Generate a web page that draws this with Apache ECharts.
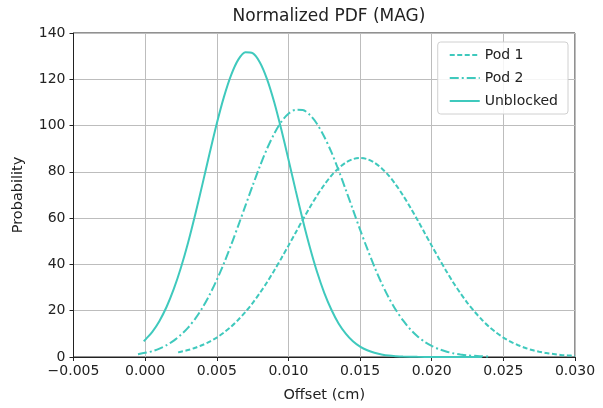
<!DOCTYPE html>
<html>
<head>
<meta charset="utf-8">
<script src="https://cdn.jsdelivr.net/npm/echarts@6/dist/echarts.min.js"></script>
<style>
  html, body { margin: 0; padding: 0; background: #fff; }
  #chart { width: 603px; height: 408px; }
</style>
</head>
<body>
<div id="chart"></div>
<script>
// values (every 0.0005 cm)
var pod1X = [0.0023, 0.0025, 0.0030, 0.0035, 0.0040, 0.0045, 0.0050, 0.0055, 0.0060, 0.0065,
             0.0070, 0.0075, 0.0080, 0.0085, 0.0090, 0.0095, 0.0100, 0.0105, 0.0110, 0.0115,
             0.0120, 0.0125, 0.0130, 0.0135, 0.0140, 0.0145, 0.0150, 0.0155, 0.0160, 0.0165,
             0.0170, 0.0175, 0.0180, 0.0185, 0.0190, 0.0195, 0.0200, 0.0205, 0.0210, 0.0215,
             0.0220, 0.0225, 0.0230, 0.0235, 0.0240, 0.0245, 0.0250, 0.0255, 0.0260, 0.0265,
             0.0270, 0.0275, 0.0280, 0.0285, 0.0290, 0.0295, 0.0300];
var pod1Y = [2.0, 2.3, 3.0, 4.0, 5.2, 6.6, 8.4, 10.6, 13.1, 16.1,
             19.5, 23.3, 27.6, 32.2, 37.3, 42.6, 48.1, 53.7, 59.3, 64.7,
             69.8, 74.4, 78.4, 81.6, 84.0, 85.5, 86.0, 85.5, 84.0, 81.6,
             78.4, 74.4, 69.8, 64.7, 59.3, 53.7, 48.1, 42.6, 37.3, 32.2,
             27.6, 23.3, 19.5, 16.1, 13.1, 10.6, 8.4, 6.6, 5.2, 4.0,
             3.0, 2.3, 1.7, 1.3, 0.9, 0.7, 0.5];

var pod2X = [-0.0005, 0.0000, 0.0005, 0.0010, 0.0015, 0.0020, 0.0025, 0.0030, 0.0035, 0.0040,
             0.0045, 0.0050, 0.0055, 0.0060, 0.0065, 0.0070, 0.0075, 0.0080, 0.0085, 0.0090,
             0.0095, 0.0100, 0.0105, 0.0110, 0.0115, 0.0120, 0.0125, 0.0130, 0.0135, 0.0140,
             0.0145, 0.0150, 0.0155, 0.0160, 0.0165, 0.0170, 0.0175, 0.0180, 0.0185, 0.0190,
             0.0195, 0.0200, 0.0205, 0.0210, 0.0215, 0.0220, 0.0225, 0.0230, 0.0235, 0.0240];
var pod2Y = [1.2, 1.8, 2.5, 3.6, 5.1, 7.1, 9.6, 12.7, 16.6, 21.3,
             26.9, 33.3, 40.5, 48.4, 56.8, 65.4, 74.0, 82.3, 89.9, 96.4,
             101.6, 105.1, 106.8, 106.7, 104.6, 100.7, 95.2, 88.5, 80.7, 72.3,
             63.7, 55.0, 46.8, 39.0, 31.9, 25.7, 20.3, 15.8, 12.0, 9.0,
             6.6, 4.8, 3.4, 2.4, 1.6, 1.1, 0.7, 0.5, 0.3, 0.2];

var unblockedX = [-0.0001, 0.0000, 0.0005, 0.0010, 0.0015, 0.0020, 0.0025, 0.0030, 0.0035, 0.0040,
                  0.0045, 0.0050, 0.0055, 0.0060, 0.0065, 0.0070, 0.0075, 0.0080, 0.0085, 0.0090,
                  0.0095, 0.0100, 0.0105, 0.0110, 0.0115, 0.0120, 0.0125, 0.0130, 0.0135, 0.0140,
                  0.0145, 0.0150, 0.0155, 0.0160, 0.0165, 0.0170, 0.0175, 0.0180, 0.0190, 0.0200,
                  0.0210, 0.0220, 0.0235];
var unblockedY = [6.8, 7.4, 10.9, 15.6, 21.7, 29.4, 38.7, 49.5, 61.7, 74.7,
                  88.0, 100.9, 112.4, 121.8, 128.5, 131.7, 131.3, 127.4, 120.2, 110.3,
                  98.4, 85.4, 72.1, 59.2, 47.3, 36.7, 27.7, 20.4, 14.5, 10.1,
                  6.8, 4.5, 2.9, 1.8, 1.1, 0.6, 0.35, 0.2, 0.06, 0.02,
                  0, 0, 0];

var seriesNames = ['Pod 1', 'Pod 2', 'Unblocked'];

function pairs(xs, ys) {
    var out = [];
    for (var i = 0; i < xs.length; i++) {
        out.push([xs[i], ys[i]]);
    }
    return out;
}

var lineColor = '#3fc9bd';
var font = 'DejaVu Sans';

var myChart = echarts.init(document.getElementById('chart'));
var option = {
    backgroundColor: '#fff',
    animation: false,
    textStyle: { fontFamily: font },
    title: {
        text: 'Normalized PDF (MAG)',
        left: 324,
        textAlign: 'center',
        top: 3,
        textStyle: { fontFamily: font, fontSize: 17, fontWeight: 'normal', color: '#222' }
    },
    legend: {
        orient: 'vertical',
        right: 35,
        top: 42,
        data: seriesNames,
        itemWidth: 30,
        itemHeight: 12,
        itemGap: 9,
        padding: [6, 10, 6, 11],
        backgroundColor: 'rgba(255,255,255,0.85)',
        borderColor: '#d0d0d0',
        borderWidth: 1,
        borderRadius: 3,
        itemStyle: { opacity: 0 },
        textStyle: { fontFamily: font, fontSize: 14, color: '#222' }
    },
    grid: {
        left: 73.5,
        right: 28,
        top: 33,
        bottom: 51,
        show: true,
        borderColor: '#222',
        borderWidth: 1
    },
    xAxis: {
        type: 'value',
        min: -0.005,
        max: 0.030,
        interval: 0.005,
        name: 'Offset (cm)',
        nameLocation: 'middle',
        nameGap: 31,
        nameTextStyle: { fontFamily: font, fontSize: 14.5, color: '#222' },
        axisLine: { show: true, onZero: false, lineStyle: { color: '#222', width: 1 } },
        axisTick: { show: true, length: 4, lineStyle: { color: '#222' } },
        axisLabel: {
            fontFamily: font, fontSize: 14, color: '#222', margin: 7,
            formatter: function (v) { return v.toFixed(3).replace('-', '\u2212'); }
        },
        splitLine: { show: true, lineStyle: { color: '#bdbdbd', width: 1 } }
    },
    yAxis: {
        type: 'value',
        min: 0,
        max: 140,
        interval: 20,
        name: 'Probability',
        nameLocation: 'middle',
        nameGap: 48,
        nameTextStyle: { fontFamily: font, fontSize: 14.5, color: '#222' },
        axisLine: { show: true, onZero: false, lineStyle: { color: '#222', width: 1 } },
        axisTick: { show: true, length: 4, lineStyle: { color: '#222' } },
        axisLabel: { fontFamily: font, fontSize: 14, color: '#222', margin: 8 },
        splitLine: { show: true, lineStyle: { color: '#bdbdbd', width: 1 } }
    },
    series: [
        {
            name: seriesNames[0],
            type: 'line',
            data: pairs(pod1X, pod1Y),
            smooth: 0.3,
            showSymbol: false,
            symbol: 'none',
            lineStyle: { color: lineColor, width: 2, type: [5, 2.5] },
            itemStyle: { color: lineColor }
        },
        {
            name: seriesNames[1],
            type: 'line',
            data: pairs(pod2X, pod2Y),
            smooth: 0.3,
            showSymbol: false,
            symbol: 'none',
            lineStyle: { color: lineColor, width: 2, type: [9, 3, 2, 3] },
            itemStyle: { color: lineColor }
        },
        {
            name: seriesNames[2],
            type: 'line',
            data: pairs(unblockedX, unblockedY),
            smooth: 0.3,
            showSymbol: false,
            symbol: 'none',
            lineStyle: { color: lineColor, width: 2 },
            itemStyle: { color: lineColor }
        }
    ]
};
myChart.setOption(option);
</script>
</body>
</html>
